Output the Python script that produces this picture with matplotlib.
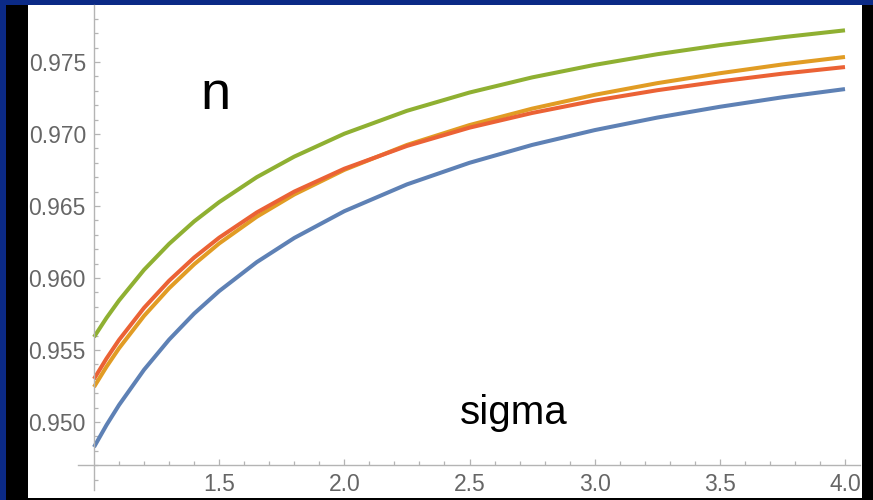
import matplotlib
matplotlib.use("Agg")
import matplotlib.pyplot as plt
from matplotlib.patches import Rectangle
from matplotlib.ticker import FixedLocator

sigma = [1.0, 1.05, 1.1, 1.2, 1.3, 1.4, 1.5, 1.65, 1.8, 2.0, 2.25, 2.5, 2.75, 3.0, 3.25, 3.5, 3.75, 4.0]
n_blue = [0.94826, 0.94979, 0.95118, 0.95363, 0.95572, 0.95753, 0.95909, 0.96110, 0.96278, 0.96464,
          0.96650, 0.96800, 0.96924, 0.97027, 0.97114, 0.97189, 0.97255, 0.97312]
n_orange = [0.95243, 0.95384, 0.95512, 0.95737, 0.95929, 0.96095, 0.96240, 0.96425, 0.96580, 0.96751,
            0.96924, 0.97062, 0.97176, 0.97272, 0.97353, 0.97422, 0.97483, 0.97535]
n_green = [0.95590, 0.95723, 0.95844, 0.96057, 0.96237, 0.96393, 0.96527, 0.96700, 0.96843, 0.97002,
           0.97161, 0.97288, 0.97393, 0.97480, 0.97554, 0.97617, 0.97672, 0.97720]
n_red = [0.95299, 0.95441, 0.95570, 0.95793, 0.95981, 0.96142, 0.96280, 0.96455, 0.96600, 0.96759,
         0.96917, 0.97044, 0.97146, 0.97232, 0.97304, 0.97365, 0.97419, 0.97465]

x_ticks = [1.5, 2.0, 2.5, 3.0, 3.5, 4.0]
x_ticklabels = ["1.5", "2.0", "2.5", "3.0", "3.5", "4.0"]
y_ticks = [0.950, 0.955, 0.960, 0.965, 0.970, 0.975]
y_ticklabels = ["0.950", "0.955", "0.960", "0.965", "0.970", "0.975"]

W, H = 873, 500
fig = plt.figure(figsize=(W / 100, H / 100), dpi=100)
fig.patch.set_facecolor("#0b2a86")
# black frame behind the white panel
frame = Rectangle((6 / W, 0), 1 - 6 / W, 1 - 5 / H, transform=fig.transFigure,
                  facecolor="black", edgecolor="none", zorder=-10)
fig.add_artist(frame)

ax = fig.add_axes([28 / W, 2 / H, (862 - 28) / W, (495 - 2) / H])
ax.set_zorder(5)
ax.set_facecolor("white")

colors = {"blue": "#5E81B5", "orange": "#E19C24", "green": "#8FB032", "red": "#EB6235"}
lw = 2.9
ax.plot(sigma, n_blue, color=colors["blue"], lw=lw, solid_capstyle="butt")
ax.plot(sigma, n_orange, color=colors["orange"], lw=lw, solid_capstyle="butt")
ax.plot(sigma, n_green, color=colors["green"], lw=lw, solid_capstyle="butt")
ax.plot(sigma, n_red, color=colors["red"], lw=lw, solid_capstyle="butt")

ppx = 250.33  # pixels per sigma unit
ppy = 14400.0  # pixels per n unit
ax.set_xlim(1 - (94 - 28) / ppx, 4 + (862 - 845) / ppx)
ax.set_ylim(0.950 - (498 - 422) / ppy, 0.975 + (62 - 5) / ppy)

x_origin = 1.0
y_origin = 0.950 - (465 - 422) / ppy

for s in ["top", "right"]:
    ax.spines[s].set_visible(False)
gray = "#b4b4b4"
ax.spines["left"].set_position(("data", x_origin))
ax.spines["bottom"].set_position(("data", y_origin))
ax.spines["left"].set_bounds(0.950 - (490 - 422) / ppy, 0.975 + (62 - 5) / ppy)
ax.spines["bottom"].set_bounds(1 - 16 / ppx, 4 + (860 - 845) / ppx)
for s in ["left", "bottom"]:
    ax.spines[s].set_color(gray)
    ax.spines[s].set_linewidth(1.0)

ax.xaxis.set_major_locator(FixedLocator(x_ticks))
ax.set_xticklabels(x_ticklabels)
ax.xaxis.set_minor_locator(FixedLocator([1.0 + 0.1 * i for i in range(1, 31) if i % 5 != 0]))
ax.yaxis.set_major_locator(FixedLocator(y_ticks))
ax.set_yticklabels(y_ticklabels)
ax.yaxis.set_minor_locator(FixedLocator([0.946 + 0.001 * i for i in range(0, 33) if i % 5 != 4]))

font = "Liberation Sans"
ax.tick_params(which="major", direction="in", length=4.3, width=0.9, color=gray,
               labelsize=16.5, labelcolor="#666666", pad=5.8)
ax.tick_params(which="minor", direction="in", length=2.6, width=0.9, color=gray)
for lab in ax.get_xticklabels() + ax.get_yticklabels():
    lab.set_fontfamily(font)

ax.text((215 - 28) / (862 - 28), (495 - 92) / (495 - 2), "n", transform=ax.transAxes,
        fontsize=39, family=font, color="black", ha="center", va="center")
ax.text((514 - 28) / (862 - 28), (495 - 410) / (495 - 2), "sigma", transform=ax.transAxes,
        fontsize=29, family=font, color="black", ha="center", va="center")

fig.savefig("out.png", dpi=100, facecolor=fig.get_facecolor())
